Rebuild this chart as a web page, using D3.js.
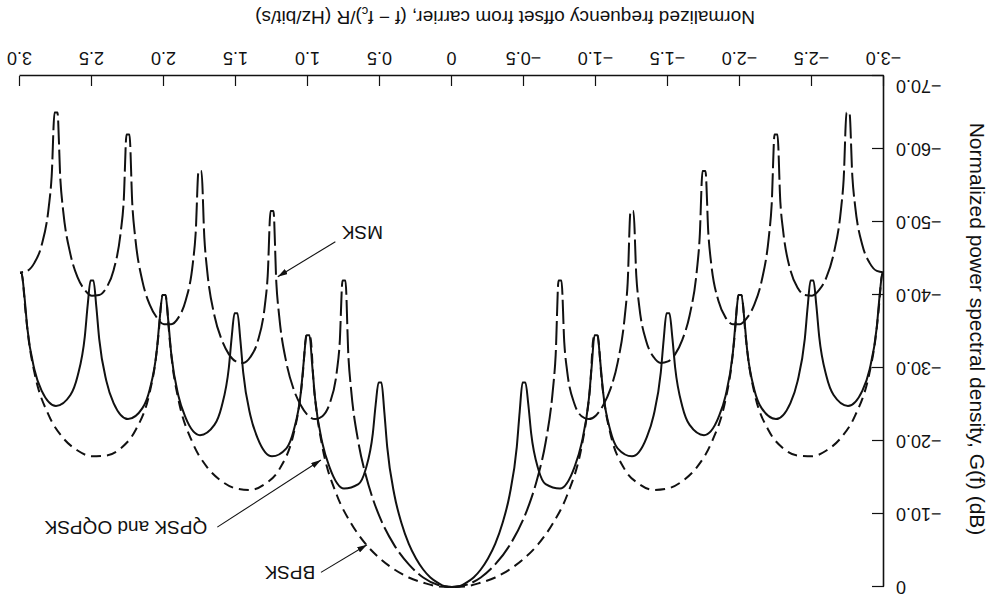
<!DOCTYPE html>
<html>
<head>
<meta charset="utf-8">
<script src="https://cdn.jsdelivr.net/npm/d3@7"></script>
<style>
  body { margin: 0; background: #fff; }
  text { font-family: "Liberation Sans", Arial, Helvetica, sans-serif; fill: #111; }
</style>
</head>
<body>
<svg id="chart" width="995" height="602"></svg>
<script>
// tick values
var freqTicks = [-3, -2.5, -2, -1.5, -1, -0.5, 0, 0.5, 1, 1.5, 2, 2.5, 3];
var dbTicks = [0, -10, -20, -30, -40, -50, -60, -70];

// [normalized frequency, dB]
var bpsk = [
  [-3,-43],[-2.99,-43],[-2.96,-37.4],[-2.94,-33.9],[-2.9,-29.4],[-2.8,-23.5],[-2.7,-20.4],[-2.6,-18.7],[-2.5,-17.9],[-2.4,-18.0],[-2.3,-19.0],[-2.2,-21.4],[-2.1,-26.6],[-2.06,-30.8],[-2.04,-34.2],[-2.01,-40],
  [-1.99,-40],[-1.96,-33.8],[-1.94,-30.2],[-1.9,-25.7],[-1.8,-19.7],[-1.7,-16.4],[-1.6,-14.5],[-1.5,-13.5],[-1.4,-13.3],[-1.3,-14.1],[-1.2,-16.1],[-1.1,-21.0],[-1.06,-25.0],[-1.04,-28.3],[-1.01,-34.5],
  [-0.99,-34.5],[-0.98,-33.8],[-0.96,-27.6],[-0.94,-24.0],[-0.9,-19.2],[-0.8,-12.6],[-0.7,-8.7],[-0.6,-5.9],[-0.5,-3.9],[-0.4,-2.4],[-0.3,-1.3],[-0.2,-0.6],[-0.1,-0.1],
  [0,0],
  [0.1,-0.1],[0.2,-0.6],[0.3,-1.3],[0.4,-2.4],[0.5,-3.9],[0.6,-5.9],[0.7,-8.7],[0.8,-12.6],[0.9,-19.2],[0.94,-24.0],[0.96,-27.6],[0.98,-33.8],[0.99,-34.5],
  [1.01,-34.5],[1.04,-28.3],[1.06,-25.0],[1.1,-21.0],[1.2,-16.1],[1.3,-14.1],[1.4,-13.3],[1.5,-13.5],[1.6,-14.5],[1.7,-16.4],[1.8,-19.7],[1.9,-25.7],[1.94,-30.2],[1.96,-33.8],[1.99,-40],
  [2.01,-40],[2.04,-34.2],[2.06,-30.8],[2.1,-26.6],[2.2,-21.4],[2.3,-19.0],[2.4,-18.0],[2.5,-17.9],[2.6,-18.7],[2.7,-20.4],[2.8,-23.5],[2.9,-29.4],[2.94,-33.9],[2.96,-37.4],[2.99,-43],[3,-43]
];

var qpsk = [
  [-3,-43],[-2.99,-43],[-2.97,-40.0],[-2.95,-35.6],[-2.9,-29.8],[-2.85,-26.9],[-2.75,-24.8],[-2.65,-26.3],[-2.6,-28.9],[-2.55,-34.3],[-2.53,-38.6],[-2.51,-42],
  [-2.49,-42],[-2.47,-38.4],[-2.45,-34.0],[-2.4,-28.2],[-2.35,-25.2],[-2.25,-23.0],[-2.15,-24.5],[-2.1,-27.0],[-2.05,-32.4],[-2.03,-36.7],[-2.01,-40],
  [-1.99,-40],[-1.97,-36.4],[-1.95,-32.0],[-1.9,-26.2],[-1.85,-23.2],[-1.75,-20.8],[-1.65,-22.2],[-1.6,-24.7],[-1.55,-30.0],[-1.53,-34.2],[-1.51,-37.5],
  [-1.49,-37.5],[-1.47,-33.9],[-1.45,-29.4],[-1.4,-23.5],[-1.35,-20.4],[-1.25,-17.9],[-1.15,-19.0],[-1.1,-21.4],[-1.05,-26.6],[-1.03,-30.8],[-1.01,-34.5],
  [-0.99,-34.5],[-0.97,-30.2],[-0.95,-25.7],[-0.9,-19.7],[-0.85,-16.4],[-0.75,-13.5],[-0.65,-14.1],[-0.6,-16.1],[-0.55,-21.0],[-0.53,-25.0],[-0.51,-28],
  [-0.49,-28],[-0.47,-24.0],[-0.45,-19.2],[-0.4,-12.6],[-0.35,-8.7],[-0.3,-5.9],[-0.25,-3.9],[-0.2,-2.4],[-0.15,-1.3],[-0.1,-0.6],[-0.05,-0.1],
  [0,0],
  [0.05,-0.1],[0.1,-0.6],[0.15,-1.3],[0.2,-2.4],[0.25,-3.9],[0.3,-5.9],[0.35,-8.7],[0.4,-12.6],[0.45,-19.2],[0.47,-24.0],[0.49,-28],
  [0.51,-28],[0.53,-25.0],[0.55,-21.0],[0.6,-16.1],[0.65,-14.1],[0.75,-13.5],[0.85,-16.4],[0.9,-19.7],[0.95,-25.7],[0.97,-30.2],[0.99,-34.5],
  [1.01,-34.5],[1.03,-30.8],[1.05,-26.6],[1.1,-21.4],[1.15,-19.0],[1.25,-17.9],[1.35,-20.4],[1.4,-23.5],[1.45,-29.4],[1.47,-33.9],[1.49,-37.5],
  [1.51,-37.5],[1.53,-34.2],[1.55,-30.0],[1.6,-24.7],[1.65,-22.2],[1.75,-20.8],[1.85,-23.2],[1.9,-26.2],[1.95,-32.0],[1.97,-36.4],[1.99,-40],
  [2.01,-40],[2.03,-36.7],[2.05,-32.4],[2.1,-27.0],[2.15,-24.5],[2.25,-23.0],[2.35,-25.2],[2.4,-28.2],[2.45,-34.0],[2.47,-38.4],[2.49,-42],
  [2.51,-42],[2.53,-38.6],[2.55,-34.3],[2.6,-28.9],[2.65,-26.3],[2.75,-24.8],[2.85,-26.9],[2.9,-29.8],[2.95,-35.6],[2.97,-40.0],[2.99,-43],[3,-43]
];

var msk = [
  [-3,-43.1],[-2.95,-43.3],[-2.9,-44.4],[-2.85,-46.8],[-2.8,-52.1],[-2.78,-56.3],[-2.76,-65],
  [-2.74,-65],[-2.72,-55.9],[-2.7,-51.5],[-2.65,-45.6],[-2.6,-42.4],[-2.55,-40.7],[-2.5,-39.9],[-2.45,-40.0],[-2.4,-41.0],[-2.35,-43.4],[-2.3,-48.7],[-2.28,-52.8],[-2.26,-62],
  [-2.24,-62],[-2.22,-52.4],[-2.2,-47.9],[-2.15,-41.9],[-2.1,-38.7],[-2.05,-36.9],[-2.0,-36.0],[-1.95,-36.0],[-1.9,-36.9],[-1.85,-39.2],[-1.8,-44.3],[-1.78,-48.5],[-1.76,-57],
  [-1.74,-57],[-1.72,-47.9],[-1.7,-43.3],[-1.65,-37.2],[-1.6,-33.9],[-1.55,-31.9],[-1.5,-30.9],[-1.45,-30.7],[-1.4,-31.5],[-1.35,-33.6],[-1.3,-38.5],[-1.28,-42.6],[-1.26,-51.5],
  [-1.24,-51.5],[-1.22,-41.7],[-1.2,-37.1],[-1.15,-30.7],[-1.1,-27.1],[-1.05,-24.9],[-1.0,-23.5],[-0.95,-23.0],[-0.9,-23.4],[-0.85,-25.1],[-0.8,-29.5],[-0.78,-33.4],[-0.76,-42],
  [-0.74,-42],[-0.72,-31.8],[-0.7,-26.9],[-0.65,-19.8],[-0.6,-15.4],[-0.55,-12.1],[-0.5,-9.5],[-0.4,-5.7],[-0.3,-3.1],[-0.2,-1.3],[-0.1,-0.3],
  [0,0],
  [0.1,-0.3],[0.2,-1.3],[0.3,-3.1],[0.4,-5.7],[0.5,-9.5],[0.55,-12.1],[0.6,-15.4],[0.65,-19.8],[0.7,-26.9],[0.72,-31.8],[0.74,-42],
  [0.76,-42],[0.78,-33.4],[0.8,-29.5],[0.85,-25.1],[0.9,-23.4],[0.95,-23.0],[1.0,-23.5],[1.05,-24.9],[1.1,-27.1],[1.15,-30.7],[1.2,-37.1],[1.22,-41.7],[1.24,-51.5],
  [1.26,-51.5],[1.28,-42.6],[1.3,-38.5],[1.35,-33.6],[1.4,-31.5],[1.45,-30.7],[1.5,-30.9],[1.55,-31.9],[1.6,-33.9],[1.65,-37.2],[1.7,-43.3],[1.72,-47.9],[1.74,-57],
  [1.76,-57],[1.78,-48.5],[1.8,-44.3],[1.85,-39.2],[1.9,-36.9],[1.95,-36.0],[2.0,-36.0],[2.05,-36.9],[2.1,-38.7],[2.15,-41.9],[2.2,-47.9],[2.22,-52.4],[2.24,-62],
  [2.26,-62],[2.28,-52.8],[2.3,-48.7],[2.35,-43.4],[2.4,-41.0],[2.45,-40.0],[2.5,-39.9],[2.55,-40.7],[2.6,-42.4],[2.65,-45.6],[2.7,-51.5],[2.72,-55.9],[2.74,-65],
  [2.76,-65],[2.78,-56.3],[2.8,-52.1],[2.85,-46.8],[2.9,-44.4],[2.95,-43.3],[3,-43.1]
];

// callouts: label, where the text sits, where the arrow points (freq, dB)
var callouts = [
  { name: "QPSK and OQPSK", at: [1.70, -8.2], tail: [1.63, -8.2], tip: [0.91, -17.4] },
  { name: "BPSK", at: [0.95, -2.0], tail: [0.91, -2.0], tip: [0.59, -5.8] },
  { name: "MSK", at: [0.48, -48.5], tail: [0.81, -47.3], tip: [1.21, -42.5] }
];

var svg = d3.select("#chart");

// the figure is printed upside down: draw it the normal way and turn it over
var root = svg.append("g").attr("transform", "rotate(180 497.5 301)");

var x = d3.scaleLinear().domain([-3, 3]).range([111, 975]);
var y = d3.scaleLinear().domain([-70, 0]).range([526, 15]);

var fmt = function (d) { return d === 0 ? "0" : d3.format(".1f")(d); };

// arrow head
svg.append("defs").append("marker")
  .attr("id", "head")
  .attr("viewBox", "0 0 10 6")
  .attr("refX", 10).attr("refY", 3)
  .attr("markerWidth", 10).attr("markerHeight", 6)
  .attr("markerUnits", "userSpaceOnUse")
  .attr("orient", "auto")
  .append("path").attr("d", "M0,0L10,3L0,6Z").attr("fill", "#111");

// axes
var xAxis = root.append("g")
  .attr("transform", "translate(0," + y(-70) + ")")
  .call(d3.axisBottom(x).tickValues(freqTicks).tickFormat(fmt)
    .tickSizeInner(-10).tickSizeOuter(0).tickPadding(11));

var yAxis = root.append("g")
  .attr("transform", "translate(" + x(-3) + ",0)")
  .call(d3.axisLeft(y).tickValues(dbTicks).tickFormat(fmt)
    .tickSizeInner(-12).tickSizeOuter(0).tickPadding(12));

[xAxis, yAxis].forEach(function (a) {
  a.attr("font-family", null).attr("font-size", null);
  a.select(".domain").attr("stroke", "#111").attr("stroke-width", 1.6);
  a.selectAll(".tick line").attr("stroke", "#111").attr("stroke-width", 1.2);
  a.selectAll(".tick text").style("font-size", "18px").attr("fill", "#111");
});
// bottom label sits a little higher
yAxis.selectAll(".tick").filter(function (d) { return d === -70; })
  .select("text").attr("y", -10);

// curves
var line = d3.line()
  .x(function (d) { return x(d[0]); })
  .y(function (d) { return y(d[1]); })
  .curve(d3.curveMonotoneX);

var series = [
  { data: bpsk, dash: "10,6" },
  { data: qpsk, dash: null },
  { data: msk, dash: "24,5" }
];

root.selectAll(".curve").data(series).enter().append("path")
  .attr("class", "curve")
  .attr("d", function (s) { return line(s.data); })
  .attr("fill", "none")
  .attr("stroke", "#111")
  .attr("stroke-width", 2)
  .attr("stroke-linejoin", "round")
  .attr("stroke-dasharray", function (s) { return s.dash; });

// callout labels and arrows
callouts.forEach(function (c) {
  root.append("text")
    .attr("x", x(c.at[0])).attr("y", y(c.at[1]))
    .attr("dy", "0.35em")
    .style("font-size", "19px")
    .text(c.name);
  root.append("line")
    .attr("x1", x(c.tail[0])).attr("y1", y(c.tail[1]))
    .attr("x2", x(c.tip[0])).attr("y2", y(c.tip[1]))
    .attr("stroke", "#111").attr("stroke-width", 1.1)
    .attr("marker-end", "url(#head)");
});

// axis titles
var xTitle = root.append("text")
  .attr("x", 490).attr("y", 591)
  .attr("text-anchor", "middle")
  .style("font-size", "19px");
xTitle.append("tspan").text("Normalized frequency offset from carrier, (f \u2212 f");
xTitle.append("tspan").attr("dy", 4).style("font-size", "13px").text("c");
xTitle.append("tspan").attr("dy", -4).text(")/R (Hz/bit/s)");

root.append("text")
  .attr("transform", "translate(18,273) rotate(-90)")
  .attr("text-anchor", "middle")
  .attr("dy", "0.35em")
  .style("font-size", "21px")
  .text("Normalized power spectral density, G(f) (dB)");
</script>
</body>
</html>
